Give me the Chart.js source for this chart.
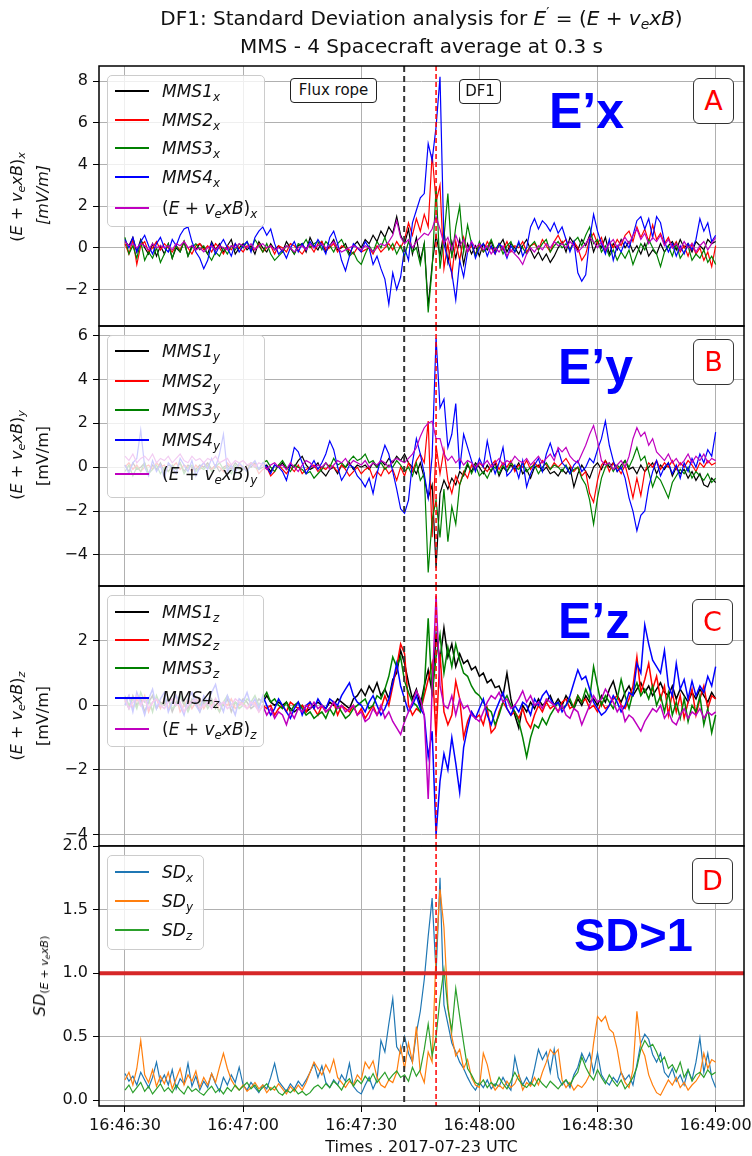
<!DOCTYPE html>
<html>
<head>
<meta charset="utf-8">
<script src="https://cdn.jsdelivr.net/npm/chart.js@4.4.1/dist/chart.umd.min.js"></script>
<style>
  body { margin: 0; background: #fff; }
  #page { position: relative; width: 752px; height: 1156px; overflow: hidden;
          font-family: "DejaVu Sans", sans-serif; color: #111; }
  canvas { position: absolute; left: 0; top: 0; }
  sub { font-size: 0.7em; vertical-align: -0.3em; line-height: 0; }
  sup { font-size: 0.7em; vertical-align: 0.55em; line-height: 0; }
  .title { position: absolute; left: 99px; width: 645px; text-align: center; font-size: 20px; line-height: 28px; }
  .ytitle { position: absolute; white-space: nowrap; font-size: 16px; line-height: 18px;
            transform: translate(-50%, -50%) rotate(-90deg); }
  .xtitle { position: absolute; left: 99px; width: 645px; text-align: center; font-size: 16px; top: 1137px; }
  .legend { position: absolute; background: rgba(255,255,255,0.8); border: 1px solid #cccccc; border-radius: 5px; }
  .legend .row { position: absolute; left: 0; height: 22px; display: flex; align-items: center; white-space: nowrap; font-size: 17px; }
  .legend .swatch { display: inline-block; width: 34px; margin-left: 7px; margin-right: 13px; }
  .tag { position: absolute; border: 1.5px solid #222; border-radius: 4px; background: #fff;
         font-size: 15px; line-height: 22px; text-align: center; box-sizing: border-box; }
  .letter { position: absolute; width: 41px; height: 46px; border: 1.5px solid #333; border-radius: 6px; background: #fff;
            color: #ff0000; font-size: 27px; line-height: 43px; text-align: center; box-sizing: border-box; }
  .big { position: absolute; font-family: "Liberation Sans", Arial, sans-serif; font-weight: bold; color: #0000ff;
         font-size: 50px; line-height: 50px; white-space: nowrap; }
</style>
</head>
<body>
<div id="page">
  <canvas id="panelA" width="752" height="1156"></canvas>
  <canvas id="panelB" width="752" height="1156"></canvas>
  <canvas id="panelC" width="752" height="1156"></canvas>
  <canvas id="panelD" width="752" height="1156"></canvas>

  <div class="title" style="top:4px">DF1: Standard Deviation analysis for <i>E</i><sup>′</sup> = (<i>E</i> + <i>v</i><sub><i>e</i></sub><i>xB</i>)</div>
  <div class="title" style="top:32px">MMS - 4 Spacecraft average at 0.3 s</div>

  <div class="ytitle" style="left:17px; top:197px">(<i>E</i> + <i>v</i><sub><i>e</i></sub><i>xB</i>)<sub><i>x</i></sub></div>
  <div class="ytitle" style="left:43px; top:195px"><i>[mV/m]</i></div>
  <div class="ytitle" style="left:17px; top:455px">(<i>E</i> + <i>v</i><sub><i>e</i></sub><i>xB</i>)<sub><i>y</i></sub></div>
  <div class="ytitle" style="left:43px; top:456px">[mV/m]</div>
  <div class="ytitle" style="left:17px; top:716px">(<i>E</i> + <i>v</i><sub><i>e</i></sub><i>xB</i>)<sub><i>z</i></sub></div>
  <div class="ytitle" style="left:43px; top:716px">[mV/m]</div>
  <div class="ytitle" style="left:40px; top:976px"><i>SD</i><sub>(<i>E</i> + <i>v</i><sub><i>e</i></sub><i>xB</i>)</sub></div>

  <div class="xtitle">Times . 2017-07-23 UTC</div>

  <div class="tag" style="left:290px; top:78px; width:87px; height:25px">Flux rope</div>
  <div class="tag" style="left:459px; top:79px; width:42px; height:25px">DF1</div>

  <div class="big" style="left:549px; top:86px">E’x</div>
  <div class="big" style="left:558px; top:342px">E’y</div>
  <div class="big" style="left:558px; top:596px">E’z</div>
  <div class="big" style="left:574px; top:911px; font-size:47px; line-height:47px">SD&gt;1</div>

  <div class="letter" style="left:693px; top:78px">A</div>
  <div class="letter" style="left:693px; top:339px">B</div>
  <div class="letter" style="left:692px; top:599px">C</div>
  <div class="letter" style="left:692px; top:858px">D</div>
</div>

<script>
// sample grid: one point per second from 16:46:30
const sampleTimes = [];
for (let t = 0; t <= 150; t++) sampleTimes.push(t);

const tickSeconds = [0, 30, 60, 90, 120, 150];
const tickLabels = ["16:46:30", "16:47:00", "16:47:30", "16:48:00", "16:48:30", "16:49:00"];
const xRange = [-6.6, 157.2];
const fluxRopeTime = 70.9;
const df1Time = 79.0;
const sdThreshold = 1.0;

const yTicksA = [-2, 0, 2, 4, 6, 8];
const yTicksB = [-4, -2, 0, 2, 4, 6];
const yTicksC = [-4, -2, 0, 2];
const yTicksD = [0, 0.5, 1.0, 1.5, 2.0];

const yRangeA = [-3.75, 8.72];
const yRangeB = [-5.42, 6.44];
const yRangeC = [-4.36, 3.70];
const yRangeD = [-0.045, 2.0];

const mmsNames = ["MMS1", "MMS2", "MMS3", "MMS4"];
const mmsColors = ["#000000", "#ff0000", "#008000", "#0000ff", "#bf00bf"];
const sdColors = ["#1f77b4", "#ff7f0e", "#2ca02c"];

// ---- panel A : E'x (mV/m)
const mms1X = [0.3,0.1,0.5,-0.2,0.4,0.0,-0.3,0.2,-0.4,0.1, -0.3,0.2,-0.5,0.0,-0.2,0.3,-0.4,0.1,-0.1,0.2,
  0.0,-0.3,0.3,-0.1,0.2,-0.2,0.1,0.4,-0.3,0.0, 0.2,-0.1,0.1,-0.3,0.3,0.0,-0.2,0.2,-0.1,0.1,
  -0.2,0.3,0.0,-0.3,0.1,0.2,-0.2,0.5,0.1,-0.1, 0.3,-0.2,0.1,0.4,-0.1,0.0,0.2,-0.3,0.1,0.3,
  0.0,0.4,0.2,0.6,0.3,0.8,0.5,1.0,0.7,1.5, 0.6,0.2,0.9,-0.3,0.5,-0.6,0.2,-2.8,-0.8,0.6,
  -0.4,0.8,-0.7,0.3,-0.5,0.4,-0.8,0.2,-0.3,0.1, -0.4,0.2,-0.1,0.3,-0.2,0.1,0.4,-0.2,0.2,0.0,
  -0.3,0.1,0.4,-0.1,-0.5,-0.2,-0.6,-0.3,-0.7,-0.4, 0.0,0.3,-0.2,0.5,0.2,-0.1,0.4,0.1,0.6,-0.2,
  0.3,0.0,0.5,-0.3,0.2,-0.1,0.4,0.0,0.3,-0.2, 0.1,-0.3,0.2,-0.4,-0.1,-0.3,0.2,-0.2,0.1,0.3,
  -0.1,0.4,0.0,0.2,-0.2,0.3,0.1,-0.1,0.4,0.2,0.3];
const mms2X = [0.2,-0.3,0.4,-0.8,0.1,0.3,-0.2,0.0,0.3,-0.1, 0.2,0.0,-0.2,0.1,-0.1,0.3,0.0,-0.3,0.1,0.2,
  -0.1,0.1,-0.2,0.2,0.0,-0.3,0.1,-0.1,0.2,0.0, -0.2,0.1,0.0,-0.1,0.2,-0.2,0.0,0.1,-0.3,0.1,
  0.0,-0.2,0.2,0.1,-0.1,-0.3,0.0,0.1,-0.2,0.2, 0.3,-0.1,0.0,0.2,-0.2,0.1,0.0,-0.1,-0.3,0.0,
  -0.2,-0.1,0.0,-0.3,0.1,-0.2,0.0,0.2,-0.1,0.3, 0.0,0.4,1.2,0.6,1.4,0.8,1.6,1.0,4.5,2.2,
  3.0,-1.0,0.2,-1.3,0.3,-0.6,0.5,-0.2,0.1,-0.3, 0.1,-0.2,0.3,0.0,-0.3,0.2,-0.1,0.3,-0.2,0.1,
  0.0,0.3,-0.2,0.1,0.2,-0.1,0.4,0.1,-0.2,0.3, 0.6,0.2,0.4,-0.1,0.3,0.0,-0.6,-0.3,0.4,0.7,
  0.2,0.5,-0.2,0.3,0.0,0.4,0.1,0.6,0.8,0.3, 1.0,0.5,0.9,0.3,1.1,0.4,0.7,0.2,0.5,0.0,
  0.3,-0.2,0.1,-0.4,0.2,-0.3,0.0,-0.6,-0.2,-0.9,0.1];
const mms3X = [0.5,-0.3,0.1,-0.5,0.3,-0.6,-0.2,-0.5,0.0,-0.7, -0.3,0.2,-0.5,0.1,-0.2,0.3,-0.4,0.0,0.2,-0.1,
  0.1,-0.3,-0.6,-0.2,-0.4,0.0,-0.3,0.1,-0.1,0.2, 0.0,0.3,-0.1,0.4,0.1,-0.2,0.2,-0.3,-0.6,-0.4,
  -0.2,0.1,0.0,-0.3,0.2,0.1,0.4,0.0,0.2,0.3, -0.1,0.3,0.1,-0.2,0.2,0.4,0.0,-0.4,-0.2,-0.6,
  -0.8,-0.3,0.1,-0.2,0.3,0.0,0.5,-0.1,0.2,-0.3, 0.1,-0.4,0.3,-0.2,0.0,-0.8,0.2,-3.1,-1.0,2.9,
  -1.0,0.5,2.6,-0.5,1.0,2.0,-0.2,1.1,0.2,-0.4, 0.3,-0.2,0.0,0.4,-0.1,0.2,-0.3,0.1,0.3,-0.2,
  0.2,0.0,-0.3,0.1,0.3,-0.1,0.2,0.4,-0.2,0.1, 0.3,0.0,0.2,-0.1,0.3,0.5,0.1,0.6,1.0,0.2,
  0.4,-0.2,0.1,-0.4,-0.1,-0.6,-0.2,-0.5,-0.1,-0.8, -0.3,0.2,-0.1,0.4,0.0,-0.3,-0.9,-0.2,0.1,-0.4,
  0.2,-0.5,-0.2,0.1,-0.6,-0.3,-0.5,-0.1,-0.7,-0.4,-0.8];
const mms4X = [0.4,0.0,0.5,-0.2,0.3,0.6,0.1,-0.3,0.2,0.5, 0.0,-0.2,0.4,0.1,0.6,0.9,1.0,0.3,-0.2,-0.5,
  -1.0,-0.6,0.2,-0.3,0.1,0.4,0.0,-0.4,0.2,-0.2, 0.1,0.3,-0.2,0.5,0.8,1.0,0.6,0.9,0.2,-0.3,
  -0.1,-0.5,0.0,0.3,-0.2,0.2,-0.1,0.3,0.0,0.4, 0.1,-0.3,0.5,0.8,0.2,-0.6,-1.1,-0.4,0.2,0.0,
  -0.2,0.3,0.0,-0.8,-0.4,-1.0,-1.5,-2.7,-1.2,-2.0, -1.4,0.0,-0.6,1.2,1.8,2.4,2.6,5.0,4.2,5.8,
  8.2,0.2,-0.6,-1.2,-2.5,-0.6,-1.4,-0.2,0.3,-0.5, 0.0,0.2,-0.4,0.1,-0.3,0.2,0.0,-0.5,0.1,-0.2,
  0.3,-0.4,0.0,1.0,1.4,0.9,1.3,1.1,0.8,1.2, 0.7,1.0,0.4,-0.2,0.3,-1.2,-1.6,-1.3,0.4,1.6,
  0.8,0.2,-0.3,0.4,-0.6,0.1,-0.2,0.3,0.0,0.6, 1.3,1.5,0.9,1.4,0.5,1.5,1.2,0.3,-0.2,0.2,
  -0.4,0.1,-0.3,0.2,-0.1,0.4,1.4,0.8,1.2,0.3,0.6];
const avgX = [0.3,0.1,0.2,0.0,0.2,0.1,-0.1,0.2,0.0,0.1, 0.0,0.1,-0.1,0.2,0.1,0.3,0.0,0.1,-0.1,0.0,
  -0.2,0.0,0.1,-0.1,0.1,0.0,-0.1,0.1,0.0,0.2, 0.1,0.0,0.2,-0.1,0.1,0.2,0.0,0.1,-0.1,0.0,
  -0.1,0.1,0.0,-0.2,0.0,0.1,-0.1,0.2,0.0,0.1, 0.2,0.0,0.1,0.3,0.0,-0.2,-0.1,0.0,0.1,0.0,
  -0.1,0.1,0.0,-0.2,0.0,0.2,0.1,0.3,0.6,1.3, 0.5,0.2,0.4,0.0,0.3,0.5,0.7,0.6,0.9,1.5,
  0.9,0.2,0.5,-0.1,0.6,0.1,0.4,-0.2,0.3,0.0, 0.2,-0.1,0.1,-0.3,0.0,-0.2,0.1,-0.4,-0.1,-0.3,
  -0.5,-0.8,-0.3,0.0,-0.2,0.1,-0.1,0.2,0.0,0.3, 0.1,0.2,0.0,0.3,0.1,-0.2,0.0,0.2,0.5,0.3,
  0.0,0.3,-0.1,0.2,0.4,0.0,0.3,0.5,0.2,0.6, 0.9,0.4,0.7,0.2,0.5,0.3,0.6,0.1,0.4,0.0,
  0.2,-0.1,0.3,0.0,0.2,-0.2,0.1,0.3,-0.1,0.2,0.5];

// ---- panel B : E'y (mV/m)
const mms1Y = [0.1,-0.2,0.2,-0.1,0.0,0.2,-0.3,0.1,-0.1,0.2, -0.2,0.1,0.0,-0.1,0.2,-0.2,0.1,0.0,-0.1,0.1,
  0.0,0.2,-0.1,0.1,-0.2,0.0,0.1,-0.1,0.2,0.0, -0.1,0.1,0.0,0.2,-0.1,0.0,0.1,-0.2,0.1,0.0,
  0.2,-0.1,0.1,0.0,0.3,0.5,0.1,-0.1,0.0,0.2, -0.2,-0.4,-0.1,0.0,-0.3,0.1,0.0,0.2,-0.1,0.1,
  0.0,0.1,-0.1,0.2,0.0,0.3,0.1,0.4,0.2,0.5, 0.3,0.6,0.2,0.0,-0.3,0.2,-0.5,-1.4,-0.8,-4.6,
  -1.2,-0.6,-1.0,-0.5,-0.8,-0.2,-0.4,0.1,-0.2,0.2, 0.0,-0.3,0.1,-0.2,0.2,-0.4,0.0,-0.2,0.1,-0.1,
  0.2,-0.3,-0.1,-0.5,0.0,0.1,-0.2,0.0,-0.3,-0.2, -0.4,-0.1,-0.3,0.0,-0.9,-0.3,0.1,-0.2,-0.5,0.0,
  0.2,-0.1,0.3,0.0,0.2,-0.2,0.1,0.3,-0.1,0.0, -0.3,0.1,-0.2,0.0,0.2,-0.3,0.1,-0.1,0.2,-0.4,
  0.0,-0.3,-0.1,-0.5,-0.2,-0.6,-0.3,-0.8,-0.9,-0.5,-0.7];
const mms2Y = [0.0,0.2,-0.1,0.1,-0.2,0.0,0.1,-0.1,0.2,0.0, 0.1,-0.2,0.0,0.2,-0.1,0.1,0.0,-0.2,0.1,-0.1,
  0.2,0.0,-0.1,0.1,0.0,-0.2,0.2,0.0,-0.1,0.1, 0.0,-0.1,0.2,0.1,-0.3,-0.1,0.0,-0.4,-0.2,0.1,
  -0.1,-0.3,0.0,-0.2,0.1,-0.3,-0.1,0.0,0.1,-0.2, 0.0,-0.1,0.1,0.0,-0.2,0.1,-0.1,-0.4,-0.2,0.0,
  -0.3,-0.1,0.0,-0.5,-0.2,-0.4,0.0,-0.3,-0.1,-0.6, 0.0,-0.4,0.2,-0.2,0.3,0.6,0.2,2.1,-3.2,1.0,
  -0.3,0.8,-0.6,-1.2,-0.4,-0.8,-0.2,-0.5,0.1,-0.1, 0.2,0.0,-0.2,0.1,0.3,-0.1,0.2,0.0,0.3,-0.2,
  0.1,0.0,0.3,-0.1,0.2,0.0,0.3,0.1,-0.1,0.2, 0.0,0.2,0.4,0.1,-0.2,0.0,-0.4,-0.2,-1.2,-1.6,
  -0.6,0.1,0.3,-0.2,0.2,0.0,-0.3,0.1,-0.6,-1.4, -0.5,-1.3,-0.2,0.2,0.0,0.3,-0.1,0.2,0.0,0.3,
  -0.1,0.2,0.0,0.3,0.1,-0.2,0.2,0.0,0.3,0.1,0.2];
const mms3Y = [-0.2,0.1,-0.4,0.0,-0.2,0.2,-0.3,-0.1,0.1,-0.3, 0.0,-0.2,0.1,-0.1,0.2,-0.3,0.0,0.1,-0.2,0.0,
  -0.1,0.1,-0.2,0.0,0.2,-0.1,0.0,-0.3,0.1,-0.1, 0.0,-0.2,0.2,0.0,-0.1,0.2,0.3,0.0,-0.2,0.1,
  0.3,0.0,-0.2,0.1,0.0,-0.1,-0.3,-0.2,-0.5,-0.3, -0.1,0.2,0.0,0.4,0.1,0.2,0.0,0.3,0.5,0.3,
  0.4,0.6,0.2,0.3,0.0,0.2,-0.1,0.1,0.0,0.3, 0.1,-0.2,0.0,-0.4,0.2,-0.6,-0.3,-4.8,-2.4,-1.5,
  -3.2,-1.0,-3.4,-1.8,-2.6,-0.8,-0.3,0.2,-0.3,0.1, -0.4,-0.2,-0.5,-0.1,0.0,-0.3,0.1,-0.2,0.2,0.0,
  -0.1,0.2,-0.2,0.0,0.1,-0.3,0.0,0.2,-0.1,0.1, 0.0,-0.2,0.1,-0.3,-0.1,0.0,-0.5,-0.8,-1.5,-2.6,
  -1.4,-0.5,0.0,0.2,-0.2,0.1,-0.1,0.3,0.0,0.4, 0.9,0.3,0.5,-0.2,-0.9,-0.4,-0.6,-1.0,-1.4,-0.7,
  -0.4,-0.1,-0.3,0.0,-0.5,-0.2,-0.4,-0.6,-0.3,-0.7,-0.5];
const mms4Y = [0.1,-0.3,0.2,0.4,1.7,0.0,-0.4,0.3,-0.2,0.1, -0.5,0.2,0.0,-0.3,0.4,0.1,-0.2,0.3,-0.4,0.0,
  0.2,-0.1,0.4,0.0,0.6,1.5,-0.2,0.1,-0.3,0.2, 0.0,-0.2,0.1,0.3,-0.1,0.2,0.0,-0.3,0.1,0.0,
  -0.2,-0.6,0.1,0.9,0.7,0.2,-0.3,0.0,0.3,-0.1, 0.2,0.6,1.2,0.8,0.0,-0.6,-0.3,0.1,0.0,-0.4,
  -0.6,-0.9,-0.5,-1.2,-0.3,0.4,1.0,0.6,-0.2,-1.0, -1.9,-2.1,-1.5,0.2,1.3,0.6,-0.3,-1.4,0.5,5.9,
  2.7,3.1,0.9,1.5,2.9,-0.1,1.5,0.9,0.3,-0.2, 0.4,0.0,1.2,0.3,-0.3,0.2,0.9,-0.4,-0.2,0.1,
  -0.5,0.3,-0.9,-0.3,0.1,0.4,-0.2,0.6,1.1,0.5, 0.8,0.2,0.0,-0.3,0.1,0.3,-0.2,0.0,0.4,0.2,
  0.8,1.3,2.1,1.0,0.3,-0.2,0.0,-0.5,-1.4,-2.0, -2.9,-2.2,-2.0,-0.9,-0.2,0.3,-0.4,0.0,0.2,-0.3,
  0.1,-0.5,0.2,-0.2,0.4,0.0,0.6,0.2,0.8,0.5,1.6];
const avgY = [0.5,0.3,0.6,0.2,0.4,0.5,0.3,0.6,0.2,0.4, 0.3,0.5,0.2,0.4,0.6,0.3,0.2,0.5,0.3,0.4,
  0.2,0.4,0.3,0.5,0.2,0.3,0.4,0.1,0.3,0.2, 0.3,0.1,0.2,0.0,0.2,0.1,-0.1,0.1,0.2,0.0,
  0.1,-0.1,0.2,0.0,-0.2,0.1,0.3,0.2,0.0,0.1, 0.0,0.2,-0.1,0.1,0.3,0.2,0.4,0.1,0.3,0.2,
  0.1,0.3,0.0,0.2,0.1,0.3,0.2,0.0,0.3,0.4, 0.3,0.2,0.4,0.6,0.9,1.4,1.8,2.0,2.1,1.3,
  1.3,0.6,0.3,0.5,0.2,0.4,0.1,0.3,0.2,0.0, 0.2,0.1,0.3,0.0,0.2,0.4,0.1,0.3,0.2,0.5,
  0.3,0.2,0.4,0.1,0.3,0.5,0.2,0.4,0.6,0.3, 0.9,0.7,0.9,0.5,0.3,0.2,0.6,1.0,1.5,1.9,
  1.2,0.3,0.1,0.2,-0.1,0.1,0.3,0.0,0.5,1.3, 1.8,1.4,1.6,1.0,1.3,0.7,0.5,0.3,0.6,0.2,
  0.4,0.1,0.3,0.6,0.2,0.5,0.3,0.6,0.2,0.4,0.3];

// ---- panel C : E'z (mV/m)
const mms1Z = [0.2,-0.1,0.3,0.0,0.2,-0.2,0.1,0.3,-0.1,0.1, 0.0,0.2,-0.2,0.1,0.3,0.0,-0.1,0.2,0.1,-0.2,
  0.1,0.0,0.2,-0.1,0.1,0.0,0.2,-0.2,0.1,0.0, 0.2,0.1,-0.1,0.0,0.2,0.1,0.3,0.1,0.0,0.1,
  0.0,0.1,-0.1,-0.2,-0.1,0.0,-0.2,-0.1,0.0,0.1, 0.0,-0.1,0.1,0.0,0.2,0.1,0.0,-0.1,0.2,0.3,
  0.5,0.3,0.6,0.4,0.7,0.3,0.5,0.2,0.8,1.0, 1.7,1.3,0.7,0.2,0.5,0.0,0.6,1.1,0.4,2.2,
  1.4,2.4,1.5,1.9,1.2,1.6,1.3,1.4,1.1,1.2, 0.9,1.0,0.7,0.8,0.55,0.6,0.3,1.0,0.2,-0.3,
  -0.7,0.0,-0.2,0.1,-0.1,0.2,0.0,0.1,0.3,0.0, 0.2,0.0,0.3,0.1,-0.1,0.2,0.0,0.3,0.1,0.2,
  0.0,0.3,0.1,0.5,0.75,0.3,0.1,0.4,0.6,0.3, 0.5,0.7,0.4,0.6,0.3,0.5,0.7,0.4,0.3,0.6,
  0.2,0.5,0.3,0.1,0.4,0.2,0.5,0.3,0.1,0.4,0.2];
const mms2Z = [0.1,0.3,-0.1,0.2,0.0,0.3,-0.2,0.1,0.2,-0.1, 0.2,-0.1,0.1,0.3,-0.2,0.0,0.2,-0.1,0.1,0.2,
  -0.1,0.1,0.0,0.2,-0.2,0.1,0.0,0.2,-0.1,0.0, 0.1,-0.1,0.0,0.1,-0.2,0.0,-0.1,0.0,-0.3,-0.1,
  0.0,-0.2,0.1,0.0,-0.1,0.0,-0.2,0.1,-0.1,-0.3, 0.0,-0.2,-0.1,0.1,-0.3,0.0,-0.1,-0.2,0.0,-0.3,
  -0.1,-0.4,-0.2,0.0,-0.3,-0.1,0.3,0.0,0.6,1.2, 1.9,1.6,0.0,-0.3,-0.1,-0.2,0.3,0.8,1.3,-1.0,
  1.6,-0.2,-0.6,-0.3,0.75,0.2,-1.0,-0.5,-0.2,-0.4, -0.3,-0.6,-0.1,-0.85,-0.7,-0.2,0.1,-0.1,-0.3,-0.2,
  -0.4,-0.1,-0.5,-0.7,-0.3,0.0,-0.2,0.1,-0.1,0.0, -0.2,0.1,0.2,-0.1,0.0,0.3,0.1,0.2,-0.1,0.0,
  -0.2,0.1,-0.1,0.0,0.2,0.3,0.0,-0.1,0.2,0.6, 1.5,0.4,0.8,1.3,0.5,0.9,0.2,0.6,-0.3,0.4,
  -0.2,0.3,-0.4,0.1,0.5,-0.3,0.2,0.6,-0.1,0.3,0.2];
const mms3Z = [0.3,0.0,0.2,-0.1,0.4,0.1,0.2,-0.2,0.3,0.0, 0.1,0.2,-0.1,0.0,0.3,0.1,-0.2,0.1,0.2,0.0,
  0.2,-0.1,0.1,0.0,-0.2,0.1,0.3,0.0,0.1,-0.1, 0.0,0.2,0.1,0.3,0.0,0.2,0.4,0.1,0.2,0.0,
  -0.1,0.1,-0.2,0.0,0.1,-0.1,-0.3,-0.2,-0.4,-0.3, -0.2,-0.4,-0.1,-0.3,0.0,-0.2,-0.4,-0.3,-0.1,0.0,
  0.1,0.2,-0.1,0.0,0.3,0.2,0.5,0.9,1.5,1.2, 1.5,0.75,0.4,0.1,0.0,-0.2,0.5,2.7,0.3,1.5,
  2.2,1.0,1.8,1.2,1.9,1.4,1.0,0.9,0.6,0.4, 0.3,0.1,-0.1,-0.2,-0.6,-0.3,0.1,0.3,0.0,-0.2,
  -0.5,-1.0,-1.6,-1.0,-0.6,-0.7,-0.4,-0.6,-0.3,-0.1, 0.1,-0.1,0.0,0.2,-0.1,0.3,0.1,0.5,0.2,1.2,
  0.6,0.0,0.3,0.1,-0.1,0.2,0.8,0.3,-0.1,0.4, 0.7,0.3,0.5,0.2,0.6,0.0,0.3,-0.2,0.4,-0.3,
  0.1,-0.4,0.2,-0.5,0.0,-0.2,0.3,-0.6,-0.1,-0.85,-0.3];
const mms4Z = [0.0,0.3,-0.2,0.4,0.1,-0.3,0.2,0.5,-0.1,0.2, 0.4,-0.2,0.1,0.3,0.0,-0.3,0.2,0.4,0.0,-0.2,
  0.3,0.1,0.4,0.65,0.1,-0.2,0.3,0.0,-0.3,0.2, 0.1,0.4,0.0,0.2,-0.1,0.3,0.0,-0.3,-0.1,0.2,
  0.0,-0.2,-0.4,-0.1,0.1,-0.3,0.0,0.1,-0.1,0.2, 0.0,-0.1,0.2,0.1,0.0,0.3,0.5,0.7,0.3,0.1,
  0.0,-0.2,0.1,0.3,0.0,-0.3,-0.1,0.2,0.7,1.3, 0.6,0.2,-0.2,0.0,0.3,-0.1,-0.3,-1.6,-0.8,-4.0,
  -2.35,-1.5,-2.0,-1.0,-1.8,-2.7,-1.3,-0.7,-0.2,-0.4, -0.1,0.2,-0.3,-0.6,-0.2,0.1,0.4,-0.1,-0.3,0.0,
  -0.2,0.1,0.0,-0.3,0.2,0.0,0.3,0.45,0.2,0.0, 0.1,-0.2,0.0,0.3,0.7,1.1,0.8,0.9,0.5,0.1,
  -0.1,-0.3,-0.2,0.0,0.3,0.1,-0.2,0.0,0.4,0.3, 1.3,1.0,2.5,1.9,1.4,1.2,1.0,1.7,0.6,0.3,
  1.3,0.5,0.8,0.2,0.75,0.3,0.6,0.4,0.9,0.6,1.2];
const avgZ = [0.2,-0.1,0.1,0.3,0.0,0.2,-0.1,0.1,0.2,0.0, -0.1,0.1,0.2,0.0,0.1,-0.2,0.0,0.1,0.2,-0.1,
  0.0,0.1,-0.1,0.2,0.0,0.1,-0.1,0.0,0.2,0.1, 0.0,-0.1,0.1,0.0,-0.2,0.0,-0.3,-0.1,-0.4,-0.2,
  -0.3,-0.6,-0.2,-0.4,-0.1,-0.2,0.0,-0.1,0.1,-0.1, 0.0,-0.2,-0.1,0.1,-0.1,0.0,-0.2,-0.1,0.0,-0.3,
  -0.2,-0.5,-0.4,-0.1,-0.3,0.0,-0.4,-0.2,-0.5,-0.7, -0.9,-0.5,-0.2,0.1,0.45,0.2,-0.3,-2.9,0.5,3.4,
  0.6,0.0,-0.1,0.3,-0.3,0.2,-0.1,0.0,-0.3,-0.4, -0.5,-0.2,0.1,0.3,0.2,0.4,0.1,0.2,-0.1,0.0,
  0.2,0.45,0.1,0.3,0.0,0.1,-0.1,0.2,0.1,0.0, -0.2,0.0,-0.3,-0.4,-0.1,-0.2,-0.6,-0.3,0.0,0.3,
  0.1,0.2,0.5,0.3,0.1,-0.2,0.0,-0.5,-0.3,-0.4, -0.6,-0.8,-0.5,-0.3,-0.1,-0.2,0.0,-0.4,-0.2,-0.5,
  -0.6,-0.3,-0.1,-0.4,-0.2,-0.3,-0.1,-0.4,-0.2,-0.3,-0.2];

// ---- panel D : standard deviation
const sdX = [0.21,0.15,0.19,0.12,0.22,0.16,0.10,0.18,0.30,0.14, 0.20,0.12,0.24,0.09,0.17,0.13,0.29,0.11,0.19,0.08,
  0.15,0.10,0.21,0.13,0.07,0.18,0.12,0.20,0.14,0.26, 0.12,0.08,0.14,0.10,0.06,0.12,0.09,0.18,0.29,0.15,
  0.11,0.07,0.13,0.09,0.15,0.11,0.16,0.22,0.29,0.18, 0.27,0.14,0.10,0.16,0.12,0.20,0.15,0.29,0.11,0.07,
  0.05,0.12,0.18,0.09,0.16,0.47,0.38,0.60,0.80,0.42, 0.37,0.50,0.37,0.30,0.53,0.70,0.95,1.29,1.59,1.00,
  1.75,0.75,0.60,0.45,0.38,0.30,0.25,0.18,0.12,0.08, 0.14,0.10,0.16,0.09,0.13,0.11,0.18,0.12,0.08,0.34,
  0.20,0.12,0.18,0.12,0.25,0.40,0.32,0.38,0.22,0.40, 0.18,0.12,0.16,0.10,0.20,0.26,0.37,0.30,0.37,0.22,
  0.37,0.20,0.15,0.12,0.18,0.14,0.22,0.16,0.20,0.12, 0.28,0.45,0.52,0.48,0.36,0.30,0.37,0.22,0.18,0.25,
  0.15,0.20,0.12,0.24,0.16,0.30,0.49,0.22,0.37,0.18,0.10];
const sdY = [0.16,0.22,0.12,0.25,0.47,0.20,0.14,0.24,0.11,0.19, 0.13,0.22,0.09,0.17,0.25,0.12,0.20,0.15,0.23,0.10,
  0.18,0.12,0.21,0.14,0.26,0.37,0.25,0.16,0.11,0.08, 0.12,0.07,0.10,0.14,0.09,0.12,0.06,0.10,0.08,0.13,
  0.09,0.05,0.11,0.07,0.12,0.08,0.14,0.22,0.30,0.25, 0.20,0.28,0.22,0.32,0.18,0.14,0.10,0.15,0.12,0.20,
  0.16,0.30,0.25,0.31,0.18,0.12,0.10,0.16,0.14,0.22, 0.42,0.25,0.45,0.30,0.58,0.22,0.14,0.38,0.30,1.16,
  1.66,1.36,0.75,0.50,0.35,0.40,0.25,0.32,0.18,0.12, 0.10,0.37,0.28,0.14,0.08,0.12,0.09,0.15,0.10,0.13,
  0.20,0.08,0.14,0.11,0.18,0.12,0.22,0.30,0.40,0.36, 0.40,0.16,0.10,0.14,0.08,0.12,0.10,0.14,0.20,0.45,
  0.66,0.62,0.66,0.56,0.53,0.40,0.22,0.14,0.10,0.24, 0.70,0.42,0.35,0.20,0.12,0.06,0.04,0.10,0.16,0.12,
  0.18,0.10,0.14,0.08,0.12,0.15,0.20,0.37,0.25,0.32,0.30];
const sdZ = [0.08,0.12,0.06,0.10,0.14,0.07,0.11,0.05,0.09,0.13, 0.07,0.10,0.06,0.12,0.08,0.05,0.11,0.07,0.09,0.06,
  0.04,0.08,0.11,0.06,0.09,0.05,0.10,0.07,0.12,0.08, 0.11,0.14,0.09,0.12,0.07,0.10,0.13,0.08,0.11,0.06,
  0.04,0.08,0.06,0.09,0.05,0.07,0.04,0.06,0.10,0.12, 0.09,0.13,0.10,0.15,0.12,0.08,0.14,0.17,0.11,0.16,
  0.13,0.19,0.15,0.21,0.14,0.18,0.22,0.16,0.20,0.23, 0.18,0.20,0.15,0.26,0.19,0.24,0.40,0.60,0.35,0.50,
  0.80,1.03,0.72,0.55,0.88,0.66,0.45,0.25,0.20,0.14, 0.12,0.16,0.10,0.14,0.11,0.18,0.13,0.09,0.15,0.22,
  0.16,0.12,0.10,0.14,0.11,0.17,0.13,0.10,0.15,0.12, 0.09,0.13,0.16,0.12,0.18,0.22,0.34,0.26,0.20,0.16,
  0.24,0.18,0.13,0.20,0.15,0.11,0.16,0.09,0.13,0.18, 0.26,0.40,0.47,0.42,0.44,0.38,0.30,0.34,0.25,0.28,
  0.22,0.30,0.18,0.24,0.15,0.20,0.22,0.18,0.24,0.20,0.22];

// helpers --------------------------------------------------------------

function series(values, color, width, order) {
  return {
    data: sampleTimes.map((t, i) => ({ x: t, y: values[i] })),
    borderColor: color,
    borderWidth: width,
    pointRadius: 0,
    fill: false,
    order: order
  };
}

function minusFmt(v) {
  return v < 0 ? "\u2212" + Math.abs(v) : String(v);
}

// frame + vertical event markers drawn on top of the curves
const markerPlugin = {
  id: "markers",
  afterDatasetsDraw(chart) {
    const { ctx, chartArea: a, scales } = chart;
    const marks = [
      { t: fluxRopeTime, color: "#333333", width: 2, dash: [6, 4] },
      { t: df1Time, color: "#ff0000", width: 1.5, dash: [5, 3] }
    ];
    ctx.save();
    marks.forEach(m => {
      const px = scales.x.getPixelForValue(m.t);
      ctx.strokeStyle = m.color;
      ctx.lineWidth = m.width;
      ctx.setLineDash(m.dash);
      ctx.beginPath();
      ctx.moveTo(px, a.top);
      ctx.lineTo(px, a.bottom);
      ctx.stroke();
    });
    ctx.setLineDash([]);
    ctx.strokeStyle = "#000";
    ctx.lineWidth = 1.5;
    ctx.strokeRect(a.left, a.top, a.right - a.left, a.bottom - a.top);
    ctx.restore();
  }
};

const tickFont = { family: "DejaVu Sans", size: 16 };

function makePanel(id, datasets, yTicks, yRange, top, bottom, showX, fmt) {
  return new Chart(document.getElementById(id), {
    type: "line",
    data: { datasets: datasets },
    options: {
      responsive: false,
      animation: false,
      events: [],
      layout: { padding: { top: top, bottom: showX ? 0 : 1156 - bottom, left: 0, right: 8 } },
      plugins: { legend: { display: false }, tooltip: { enabled: false } },
      elements: { line: { tension: 0 } },
      scales: {
        x: {
          type: "linear",
          min: xRange[0],
          max: xRange[1],
          afterBuildTicks: s => { s.ticks = tickSeconds.map(v => ({ value: v })); },
          afterFit: s => { s.height = showX ? 1156 - bottom : 0; s.paddingLeft = 0; s.paddingRight = 0; },
          border: { display: false },
          grid: { color: "#b0b0b0", lineWidth: 1, drawTicks: showX, tickLength: 6, tickColor: "#000" },
          ticks: {
            display: showX, padding: 4, color: "#111", font: tickFont, maxRotation: 0, autoSkip: false,
            callback: v => tickLabels[tickSeconds.indexOf(v)]
          }
        },
        y: {
          min: yRange[0],
          max: yRange[1],
          afterBuildTicks: s => { s.ticks = yTicks.map(v => ({ value: v })); },
          afterFit: s => { s.width = 99; s.paddingTop = 0; s.paddingBottom = 0; },
          border: { display: false },
          grid: { color: "#b0b0b0", lineWidth: 1, tickLength: 6, tickColor: "#000" },
          ticks: { padding: 5, color: "#111", font: tickFont, callback: fmt }
        }
      }
    },
    plugins: [markerPlugin]
  });
}

function mmsSets(list, width) {
  // black drawn first, magenta ends on top
  return list.map((vals, i) => series(vals, mmsColors[i], width, list.length - i));
}

makePanel("panelA", mmsSets([mms1X, mms2X, mms3X, mms4X, avgX], 1.2), yTicksA, yRangeA, 66, 326, false, minusFmt);
makePanel("panelB", mmsSets([mms1Y, mms2Y, mms3Y, mms4Y, avgY], 1.2), yTicksB, yRangeB, 326, 586, false, minusFmt);
makePanel("panelC", mmsSets([mms1Z, mms2Z, mms3Z, mms4Z, avgZ], 1.5), yTicksC, yRangeC, 586, 846, false, minusFmt);

const sdSets = [sdX, sdY, sdZ].map((vals, i) => series(vals, sdColors[i], 1.2, 3 - i));
sdSets.push({
  data: xRange.map(x => ({ x: x, y: sdThreshold })),
  borderColor: "#d62728", borderWidth: 4, pointRadius: 0, order: 0
});
makePanel("panelD", sdSets, yTicksD, yRangeD, 846, 1106, true, v => v.toFixed(1));

// html legends (real text with sub-scripts) --------------------------------
function avgLabel(c) {
  return "(<i>E</i> + <i>v</i><sub><i>e</i></sub><i>xB</i>)<sub><i>" + c + "</i></sub>";
}

function addLegend(box, rowTops, labels, colors, lineH) {
  const page = document.getElementById("page");
  const div = document.createElement("div");
  div.className = "legend";
  div.style.left = box[0] + "px";
  div.style.top = box[1] + "px";
  div.style.width = box[2] + "px";
  div.style.height = box[3] + "px";
  labels.forEach((lab, i) => {
    const row = document.createElement("div");
    row.className = "row";
    row.style.top = (rowTops[i] - 11) + "px";
    row.innerHTML = '<span class="swatch" style="height:' + lineH + 'px;background:' + colors[i] + '"></span><span>' + lab + "</span>";
    div.appendChild(row);
  });
  page.appendChild(div);
}

["x", "y", "z"].forEach((c, k) => {
  const labels = mmsNames.map(n => "<i>" + n + "</i><sub><i>" + c + "</i></sub>").concat([avgLabel(c)]);
  const boxes = [[107, 75, 156, 150], [107, 335, 156, 161], [107, 595, 155, 150]];
  const rows = [[15, 44, 72, 101, 132], [15, 45, 74, 104, 138], [16, 44, 72, 102, 133]];
  addLegend(boxes[k], rows[k], labels, mmsColors, 2);
});
addLegend([107, 855, 95, 93], [16, 45, 74],
  ["<i>SD</i><sub><i>x</i></sub>", "<i>SD</i><sub><i>y</i></sub>", "<i>SD</i><sub><i>z</i></sub>"], sdColors, 2);
</script>
</body>
</html>
